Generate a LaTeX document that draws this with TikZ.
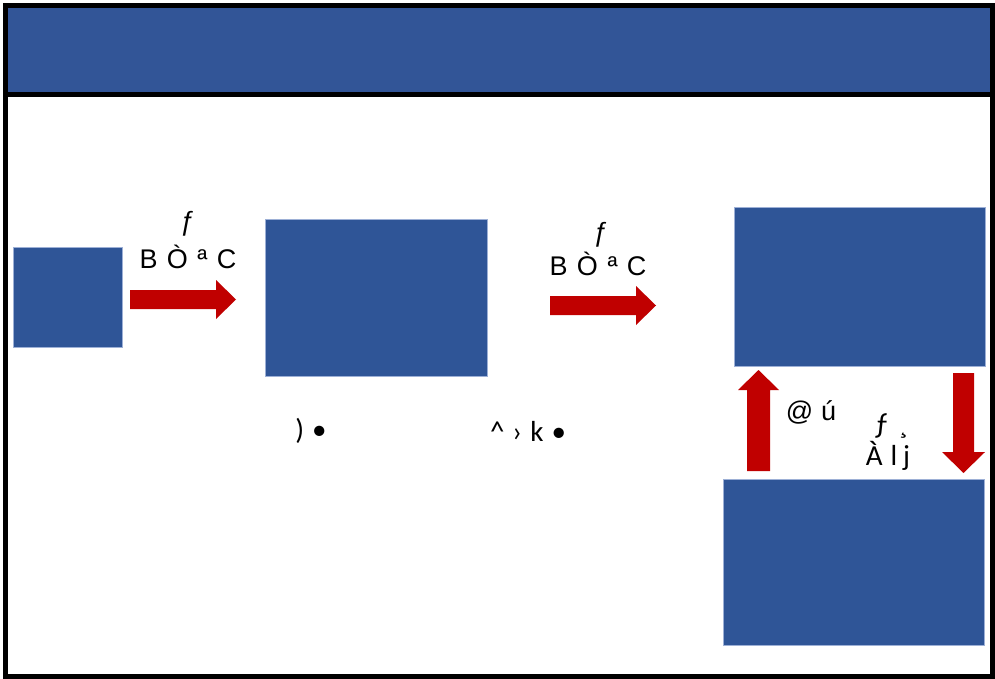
\documentclass[tikz,border=0pt]{standalone}
\usepackage{fontspec}
\setmainfont{Liberation Sans}
\newfontfamily\calib{Carlito}
\definecolor{boxblue}{HTML}{2F5597}
\definecolor{barblue}{HTML}{325597}
\definecolor{edgeblue}{HTML}{9DB0D6}
\definecolor{arrred}{HTML}{C00000}
\begin{document}
\begin{tikzpicture}[x=1pt,y=-1pt,
  bluebox/.style={fill=boxblue,draw=edgeblue,line width=0.8pt},
  redarrow/.style={fill=arrred,draw=none},
  lbl/.style={inner sep=0pt,font=\fontsize{27}{30}\selectfont},
  clbl/.style={inner sep=0pt,font=\calib\fontsize{29}{32}\selectfont}]
\useasboundingbox (0,0) rectangle (995,679);
\fill[white] (0,0) rectangle (995,679);
% title bar
\fill[barblue] (5,5) rectangle (992,92);
\draw[line width=5pt] (5.5,5.5) rectangle (992.5,676.5);
\draw[line width=5pt] (5.5,94.5) -- (992.5,94.5);
% boxes
\node[bluebox,minimum width=109pt,minimum height=100pt,inner sep=0pt,anchor=north west] (b1) at (13,247) {};
\node[bluebox,minimum width=222pt,minimum height=157pt,inner sep=0pt,anchor=north west] (b2) at (265,219) {};
\node[bluebox,minimum width=251pt,minimum height=159pt,inner sep=0pt,anchor=north west] (b3) at (734,207) {};
\node[bluebox,minimum width=261pt,minimum height=166pt,inner sep=0pt,anchor=north west] (b4) at (723,479) {};
% arrows
\fill[redarrow] (130,290) -- (216,290) -- (216,280) -- (236,299.5) -- (216,319) -- (216,309) -- (130,309) -- cycle;
\fill[redarrow] (550,296) -- (636,296) -- (636,286) -- (656,305.5) -- (636,325) -- (636,315) -- (550,315) -- cycle;
\fill[redarrow] (747,471) -- (747,390) -- (738,390) -- (758.5,370) -- (779,390) -- (770,390) -- (770,471) -- cycle;
\fill[redarrow] (953,373) -- (953,452) -- (942,452) -- (963.5,473) -- (985,452) -- (974,452) -- (974,373) -- cycle;
% labels
\node[lbl] (f1) at (188,224) {ƒ};
\node[lbl] (t1) at (188,257) {B\hspace{9.5pt}Ò\hspace{9.5pt}ª\hspace{9.5pt}C};
\node[lbl] (f2) at (601,235) {ƒ};
\node[lbl] (t2) at (598,264) {B\hspace{9.5pt}Ò\hspace{9.5pt}ª\hspace{9.5pt}C};
\node[clbl] (p1) at (311,431) {)\hspace{8pt}•};
\node[clbl] (p2) at (528,431) {\^{}\hspace{8pt}›\hspace{8pt}k\hspace{8pt}•};
\node[lbl] (at) at (811,412) {@\hspace{8pt}ú};
\node[clbl,anchor=base west] (f3) at (874,433) {ƒ\hspace{10pt}¸};
\node[clbl] (al) at (888,456) {À\hspace{8pt}l\hspace{6pt}j};
\end{tikzpicture}
\end{document}
